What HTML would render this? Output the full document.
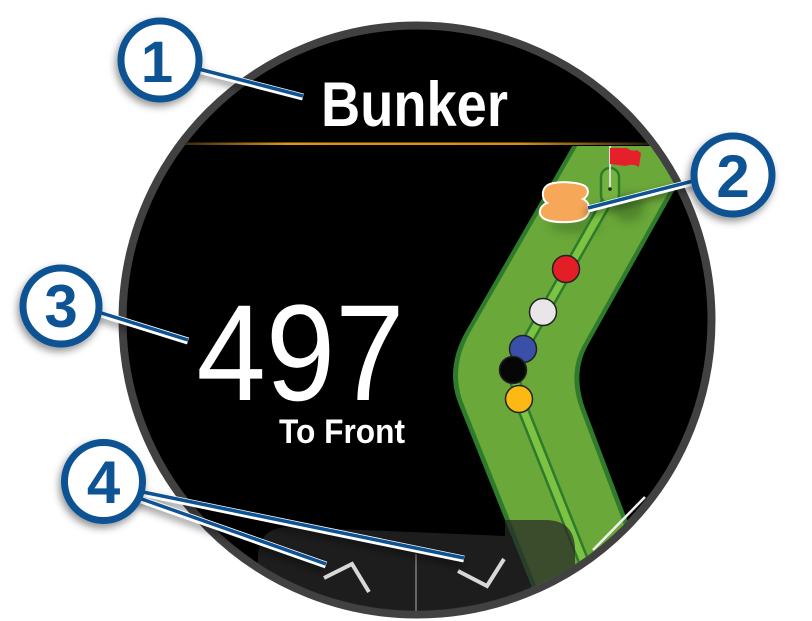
<!DOCTYPE html>
<html>
<head>
<meta charset="utf-8">
<style>
  html,body{margin:0;padding:0;background:#fff;}
  svg{display:block;}
  text{font-family:"Liberation Sans",Arial,sans-serif;}
</style>
</head>
<body>
<svg width="812" height="621" viewBox="0 0 812 621" xmlns="http://www.w3.org/2000/svg">
  <defs>
    <clipPath id="face"><circle cx="417" cy="320" r="291"/></clipPath>
    <clipPath id="map"><rect x="0" y="146" width="812" height="500"/></clipPath>
    <filter id="sh" x="-50%" y="-50%" width="200%" height="200%">
      <feDropShadow dx="-2" dy="4" stdDeviation="4" flood-color="#000" flood-opacity="0.42"/>
    </filter>
    <filter id="blur" x="-50%" y="-50%" width="200%" height="200%">
      <feGaussianBlur stdDeviation="5"/>
    </filter>
    <linearGradient id="og" x1="185" y1="0" x2="648" y2="0" gradientUnits="userSpaceOnUse">
      <stop offset="0" stop-color="#3a2a10"/>
      <stop offset="0.22" stop-color="#e0951c"/>
      <stop offset="0.72" stop-color="#d8901a"/>
      <stop offset="0.88" stop-color="#7a5418"/>
      <stop offset="1" stop-color="#2a1f0a"/>
    </linearGradient>
  </defs>

  <rect width="812" height="621" fill="#fff"/>

  <!-- watch face -->
  <circle cx="417" cy="320" r="294.5" fill="#000" stroke="#414141" stroke-width="8"/>

  <g clip-path="url(#face)">
    <g clip-path="url(#map)">
      <!-- fairway border -->
      <path d="M 598.75,100 L 466.5,330 Q 444,368.5 459,405 L 545,620 L 665,620 L 585.6,410 Q 572,374 588,345 L 725,100 Z" fill="#2e7b2c"/>
      <!-- fairway fill -->
      <path d="M 603.75,100 L 471.5,330 Q 449,368.5 464,405 L 550,620 L 660,620 L 580.6,410 Q 567,374 583,345 L 720,100 Z" fill="#6ba83a"/>
      <!-- soft shadows -->
      <ellipse cx="628" cy="208" rx="16" ry="14" fill="#1f4a14" opacity="0.35" filter="url(#blur)"/>
      <ellipse cx="575" cy="225" rx="26" ry="8" fill="#1f4a14" opacity="0.3" filter="url(#blur)"/>
      <!-- center strip -->
      <polyline points="612,192 523,349 513,370 519,399 607,620" fill="none" stroke="#2e7b2c" stroke-width="12" stroke-linejoin="round"/>
      <polyline points="612,192 523,349 513,370 519,399 607,620" fill="none" stroke="#7dc242" stroke-width="7" stroke-linejoin="round"/>
      <!-- putting green -->
      <rect x="601" y="168" width="18" height="36" rx="9" fill="#74b33e" stroke="#2e7b2c" stroke-width="2.5"/>
      <!-- flag -->
      <line x1="610" y1="146" x2="610" y2="188" stroke="#dcdcdc" stroke-width="2"/>
      <circle cx="610" cy="189" r="1.8" fill="#222"/>
      <path d="M 610,148 L 627,148 Q 632,152 637,150 L 641,153 L 639,167 Q 632,163 626,166 L 610,164 Z" fill="#e5202b"/>
      <!-- bunker -->
      <path d="M 550,184 C 560,181 575,182 583,185 C 590,188 589,196 583,199 C 590,202 592,212 585,218 C 575,224 550,223 543,218 C 537,213 540,206 547,203 C 541,199 541,187 550,184 Z" fill="#f6a858" stroke="#fff" stroke-width="2"/>
      <!-- balls -->
      <circle cx="566" cy="269" r="13.5" fill="#e31e26" stroke="#222" stroke-width="1.5"/>
      <circle cx="543" cy="312" r="13.5" fill="#e8e6e8" stroke="#222" stroke-width="1.5"/>
      <circle cx="523" cy="349" r="13.5" fill="#3a4fa8" stroke="#222" stroke-width="1.5"/>
      <circle cx="513" cy="370" r="13.5" fill="#060606" stroke="#222" stroke-width="1.5"/>
      <circle cx="519" cy="399" r="13.5" fill="#fdb913" stroke="#222" stroke-width="1.5"/>
    </g>

    <!-- bottom button overlay -->
    <path d="M 258,640 L 258,557 Q 258,527 290,527 L 505,536 L 505,640 Z" fill="rgba(40,40,40,0.72)"/>
    <path d="M 505,640 L 505,520 L 545,520 Q 575,520 575,550 L 575,640 Z" fill="rgba(40,40,40,0.72)"/>
    <line x1="416" y1="554" x2="416" y2="615" stroke="#8a8a8a" stroke-width="1.3"/>
    <polyline points="324,578 352,564 369,592" fill="none" stroke="#d8d8d8" stroke-width="4"/>
    <polyline points="458,571 487,586 504,559" fill="none" stroke="#d8d8d8" stroke-width="4"/>
    <!-- white scale line bottom right -->
    <line x1="593" y1="550" x2="645" y2="497" stroke="#f0f0f0" stroke-width="2.5"/>
  </g>

  <!-- header -->
  <text x="321" y="126" font-size="63" font-weight="bold" fill="#fff" textLength="187" lengthAdjust="spacingAndGlyphs">Bunker</text>
  <rect x="185" y="142.5" width="463" height="2.5" fill="url(#og)"/>

  <!-- distance -->
  <text x="196.5" y="400" font-size="137" fill="#fff" textLength="208" lengthAdjust="spacingAndGlyphs">497</text>
  <text x="279" y="443" font-size="34" font-weight="bold" fill="#fff" textLength="126" lengthAdjust="spacingAndGlyphs">To Front</text>

  <!-- leader lines -->
  <g filter="url(#sh)">
    <line x1="195" y1="69" x2="303" y2="97" stroke="#fff" stroke-width="7"/>
    <line x1="195" y1="68" x2="303" y2="96" stroke="#0e5394" stroke-width="3.5"/>

    <line x1="697" y1="181" x2="588" y2="209" stroke="#fff" stroke-width="7"/>
    <line x1="697" y1="180" x2="588" y2="208" stroke="#0e5394" stroke-width="3.5"/>

    <line x1="95" y1="312" x2="188" y2="341" stroke="#fff" stroke-width="7"/>
    <line x1="95" y1="311" x2="188" y2="340" stroke="#0e5394" stroke-width="3.5"/>

    <line x1="138" y1="492" x2="464" y2="559" stroke="#fff" stroke-width="7"/>
    <line x1="138" y1="491" x2="464" y2="558" stroke="#0e5394" stroke-width="3.5"/>

    <line x1="136" y1="498" x2="326" y2="565" stroke="#fff" stroke-width="7"/>
    <line x1="136" y1="497" x2="326" y2="564" stroke="#0e5394" stroke-width="3.5"/>
  </g>

  <!-- callouts -->
  <g filter="url(#sh)">
    <circle cx="160" cy="60" r="39" fill="#fff" stroke="#0e5394" stroke-width="7"/>
    <circle cx="733" cy="175" r="39" fill="#fff" stroke="#0e5394" stroke-width="7"/>
    <circle cx="61" cy="306" r="38" fill="#fff" stroke="#0e5394" stroke-width="7"/>
    <circle cx="103.5" cy="481.5" r="39" fill="#fff" stroke="#0e5394" stroke-width="7"/>
  </g>
  <text x="157" y="82" font-size="58" font-weight="bold" fill="#0e5394" text-anchor="middle">1</text>
  <text x="733" y="197" font-size="60" font-weight="bold" fill="#0e5394" text-anchor="middle">2</text>
  <text x="61" y="327" font-size="60" font-weight="bold" fill="#0e5394" text-anchor="middle">3</text>
  <text x="103.5" y="503" font-size="60" font-weight="bold" fill="#0e5394" text-anchor="middle">4</text>
</svg>
</body>
</html>
